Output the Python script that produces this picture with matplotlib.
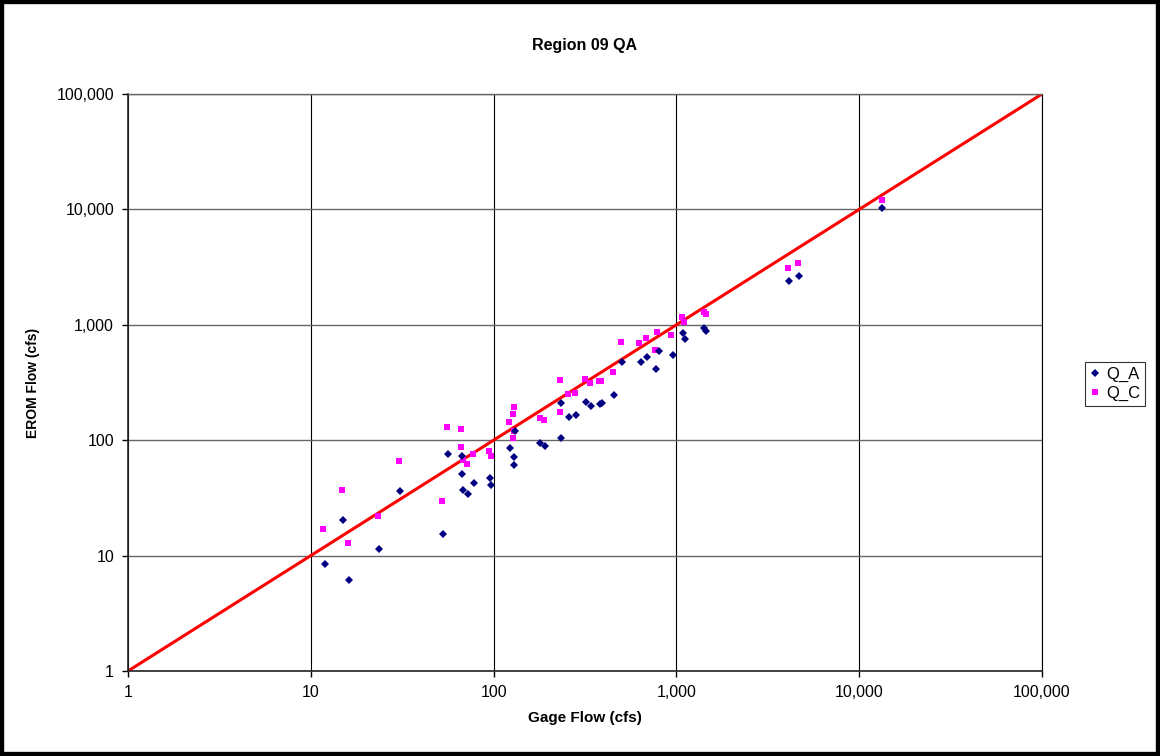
import matplotlib
matplotlib.use('Agg')
import matplotlib.pyplot as plt
from matplotlib.ticker import FuncFormatter, FixedLocator, NullLocator
from matplotlib.patches import Rectangle

plt.rcParams['font.family'] = ['Liberation Sans', 'DejaVu Sans']

# 1. Data (gage flow vs EROM flow, cfs)
qa_gage = [11.9, 16.1, 15.1, 23.7, 30.6, 52.9, 56.5, 66.8, 66.8, 68.3, 72.1, 77.8,
           95.5, 97.1, 131, 123, 130, 130, 180, 192, 235, 235, 259, 281,
           321, 342, 380, 390, 453, 506, 637, 690, 799, 773, 953, 1081,
           1114, 1421, 1457, 4130, 4700, 13380]
qa_erom = [8.5, 6.2, 20.2, 11.3, 36.2, 15.4, 75.7, 73.2, 50.5, 37.2, 34.3, 42.7,
           46.6, 41.0, 119, 85.8, 71.7, 60.8, 94.8, 89.3, 210, 105.5, 158, 165,
           216, 197, 206, 212, 246, 476, 476, 526, 592, 411, 551, 843,
           748, 936, 877, 2374, 2638, 10220]

qc_gage = [11.7, 14.9, 15.9, 23.4, 30.4, 52.4, 55.8, 66.0, 66.0, 67.7, 71.5, 77.1,
           94.4, 96.3, 121, 128, 129, 129, 128.5, 178.5, 189, 232, 232, 254,
           279, 316, 338, 377, 387, 450, 498, 627, 682, 783, 764, 938,
           1073, 1100, 1409, 1445, 4079, 4625, 13260]
qc_erom = [17.1, 37.2, 12.8, 22.1, 65.8, 29.7, 129, 124, 87.5, 67.1, 62.0, 75.7,
           80.8, 73.2, 143, 168, 194, 120, 105.5, 156, 149, 330, 176, 251,
           259, 339, 311, 324, 328, 388, 705, 690, 767, 860, 609, 815,
           1175, 1049, 1280, 1248, 3076, 3419, 12080]

# 1:1 reference line
line_ends = [1, 100000]
decade_ticks = [1, 10, 100, 1000, 10000, 100000]

# 2. Build the chart
fig = plt.figure(figsize=(11.6, 7.56), dpi=100)
ax = fig.add_axes([0.1103, 0.1124, 0.7880, 0.7633])

ax.plot(line_ends, line_ends, color='red', linewidth=2.2, zorder=2)
ax.plot(qa_gage, qa_erom, 'D', color='#000080', markersize=4.5,
        markeredgewidth=0, label='Q_A', zorder=4)
ax.plot(qc_gage, qc_erom, 's', color='#FF00FF', markersize=4.8,
        markeredgewidth=0, label='Q_C', zorder=3)

ax.set_xscale('log')
ax.set_yscale('log')
ax.set_xlim(1, 100000)
ax.set_ylim(1, 100000)

fmt = FuncFormatter(lambda v, p: f'{v:,.0f}')
for axis in (ax.xaxis, ax.yaxis):
    axis.set_major_locator(FixedLocator(decade_ticks))
    axis.set_minor_locator(NullLocator())
    axis.set_major_formatter(fmt)

ax.tick_params(axis='both', direction='out', length=4, width=1, color='black',
               labelsize=11.5, pad=6)

ax.xaxis.grid(True, color='black', linewidth=0.8)
ax.yaxis.grid(True, color='#666666', linewidth=1.0)
ax.set_axisbelow(True)

ax.spines['top'].set_color('#666666')
ax.spines['top'].set_linewidth(1.0)
ax.spines['right'].set_color('black')
ax.spines['right'].set_linewidth(0.8)
for side in ['left', 'bottom']:
    ax.spines[side].set_color('#222222')
    ax.spines[side].set_linewidth(1.2)

ax.set_title('Region 09 QA', fontsize=11.5, fontweight='bold', pad=32)
ax.set_xlabel('Gage Flow (cfs)', fontsize=11, fontweight='bold', labelpad=8)
ax.set_ylabel('EROM Flow (cfs)', fontsize=10, fontweight='bold', labelpad=12)

leg = fig.legend(loc='center left', bbox_to_anchor=(0.935, 0.492), fontsize=12,
                 frameon=True, fancybox=False, handlelength=0.6, handletextpad=0.4,
                 borderpad=0.3, labelspacing=0.2, borderaxespad=0)
leg.get_frame().set_edgecolor('black')
leg.get_frame().set_linewidth(0.8)

# outer chart border
fig.patches.append(Rectangle((0, 0), 1, 1, transform=fig.transFigure,
                             fill=False, edgecolor='black', linewidth=6))

plt.savefig('out.png', dpi=100)
